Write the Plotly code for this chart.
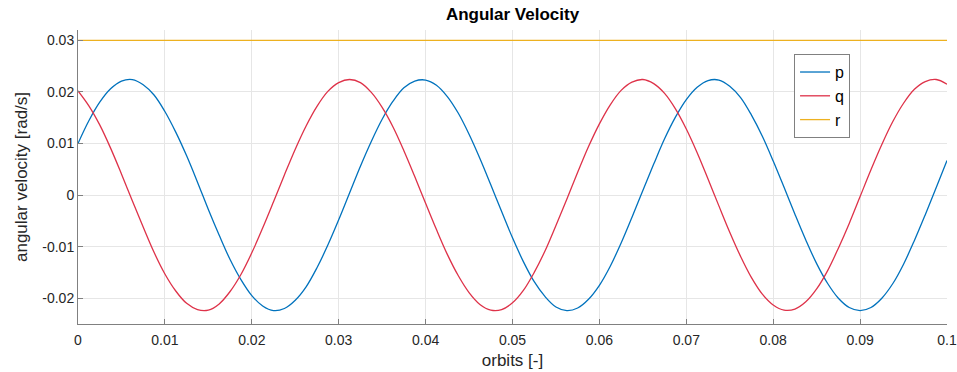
import plotly.graph_objects as go

# Sample times along the orbit fraction axis (0 .. 0.1 orbits)
orbits = [round(i * 0.00125, 5) for i in range(81)]

# Body angular rates [rad/s]
p = [0.0100, 0.0144, 0.0180, 0.0206, 0.0221, 0.0224, 0.0214, 0.0194, 0.0162, 0.0122,
     0.0076, 0.0025, -0.0028, -0.0078, -0.0125, -0.0164, -0.0195, -0.0215, -0.0224, -0.0220,
     -0.0204, -0.0178, -0.0141, -0.0097, -0.0048, 0.0004, 0.0056, 0.0104, 0.0147, 0.0182,
     0.0208, 0.0221, 0.0223, 0.0213, 0.0191, 0.0159, 0.0118, 0.0071, 0.0020, -0.0032,
     -0.0083, -0.0129, -0.0168, -0.0197, -0.0217, -0.0224, -0.0219, -0.0202, -0.0175, -0.0138,
     -0.0093, -0.0043, 0.0009, 0.0060, 0.0109, 0.0151, 0.0185, 0.0209, 0.0222, 0.0223,
     0.0211, 0.0189, 0.0155, 0.0114, 0.0066, 0.0015, -0.0037, -0.0087, -0.0133, -0.0171,
     -0.0200, -0.0218, -0.0224, -0.0218, -0.0200, -0.0172, -0.0134, -0.0088, -0.0038, 0.0014,
     0.0067]
q = [0.0202, 0.0173, 0.0136, 0.0091, 0.0041, -0.0011, -0.0062, -0.0111, -0.0153, -0.0186,
     -0.0210, -0.0222, -0.0223, -0.0211, -0.0187, -0.0154, -0.0112, -0.0064, -0.0013, 0.0039,
     0.0089, 0.0134, 0.0172, 0.0201, 0.0218, 0.0224, 0.0218, 0.0199, 0.0170, 0.0132,
     0.0086, 0.0036, -0.0016, -0.0067, -0.0115, -0.0156, -0.0189, -0.0212, -0.0223, -0.0222,
     -0.0209, -0.0185, -0.0150, -0.0108, -0.0059, -0.0008, 0.0044, 0.0094, 0.0138, 0.0175,
     0.0203, 0.0219, 0.0224, 0.0216, 0.0197, 0.0167, 0.0128, 0.0082, 0.0031, -0.0021,
     -0.0072, -0.0119, -0.0160, -0.0192, -0.0213, -0.0223, -0.0221, -0.0207, -0.0182, -0.0147,
     -0.0103, -0.0055, -0.0003, 0.0049, 0.0098, 0.0142, 0.0178, 0.0205, 0.0220, 0.0224,
     0.0215]
r = [0.03] * len(orbits)

x_ticks = [0, 0.01, 0.02, 0.03, 0.04, 0.05, 0.06, 0.07, 0.08, 0.09, 0.1]
x_tick_text = ["0", "0.01", "0.02", "0.03", "0.04", "0.05", "0.06", "0.07", "0.08", "0.09", "0.1"]
y_ticks = [-0.02, -0.01, 0, 0.01, 0.02, 0.03]
y_tick_text = ["-0.02", "-0.01", "0", "0.01", "0.02", "0.03"]

FONT = "Liberation Sans, Arial, Helvetica, sans-serif"

fig = go.Figure()
series = [("p", p, "#0072BD"), ("q", q, "#DE3249"), ("r", r, "#EDB120")]
for name, vals, color in series:
    fig.add_trace(go.Scatter(
        x=orbits, y=vals, name=name, mode="lines",
        line=dict(color=color, width=1.3, shape="spline", smoothing=1.0),
    ))

axis_common = dict(
    showgrid=True, gridcolor="#E6E6E6", gridwidth=1,
    showline=True, linecolor="#808080", linewidth=1,
    ticks="inside", ticklen=5, tickcolor="#808080",
    zeroline=False, mirror=False, automargin=False,
    tickfont=dict(family=FONT, size=14, color="#262626"),
)

fig.update_layout(
    width=957, height=372,
    margin=dict(l=78, r=10, t=30, b=48),
    paper_bgcolor="white", plot_bgcolor="white",
    title=dict(text="<b>Angular Velocity</b>", x=0.5, xref="paper", y=0.962, yref="container",
               xanchor="center", yanchor="middle",
               font=dict(family=FONT, size=17, color="black")),
    xaxis=dict(range=[0, 0.1], tickvals=x_ticks, ticktext=x_tick_text,
               ticklabelstandoff=3,
               title=dict(text="orbits [-]", standoff=7,
                          font=dict(family=FONT, size=17, color="#262626")),
               **axis_common),
    yaxis=dict(range=[-0.025, 0.032], tickvals=y_ticks, ticktext=y_tick_text,
               title=dict(text="angular velocity [rad/s]", standoff=10,
                          font=dict(family=FONT, size=17, color="#262626")),
               **axis_common),
    legend=dict(x=0.824, y=0.918, xanchor="left", yanchor="top", itemwidth=30,
                bgcolor="white", bordercolor="#808080", borderwidth=1,
                font=dict(family=FONT, size=16, color="black")),
    showlegend=True,
)

fig.write_html("out.html")
